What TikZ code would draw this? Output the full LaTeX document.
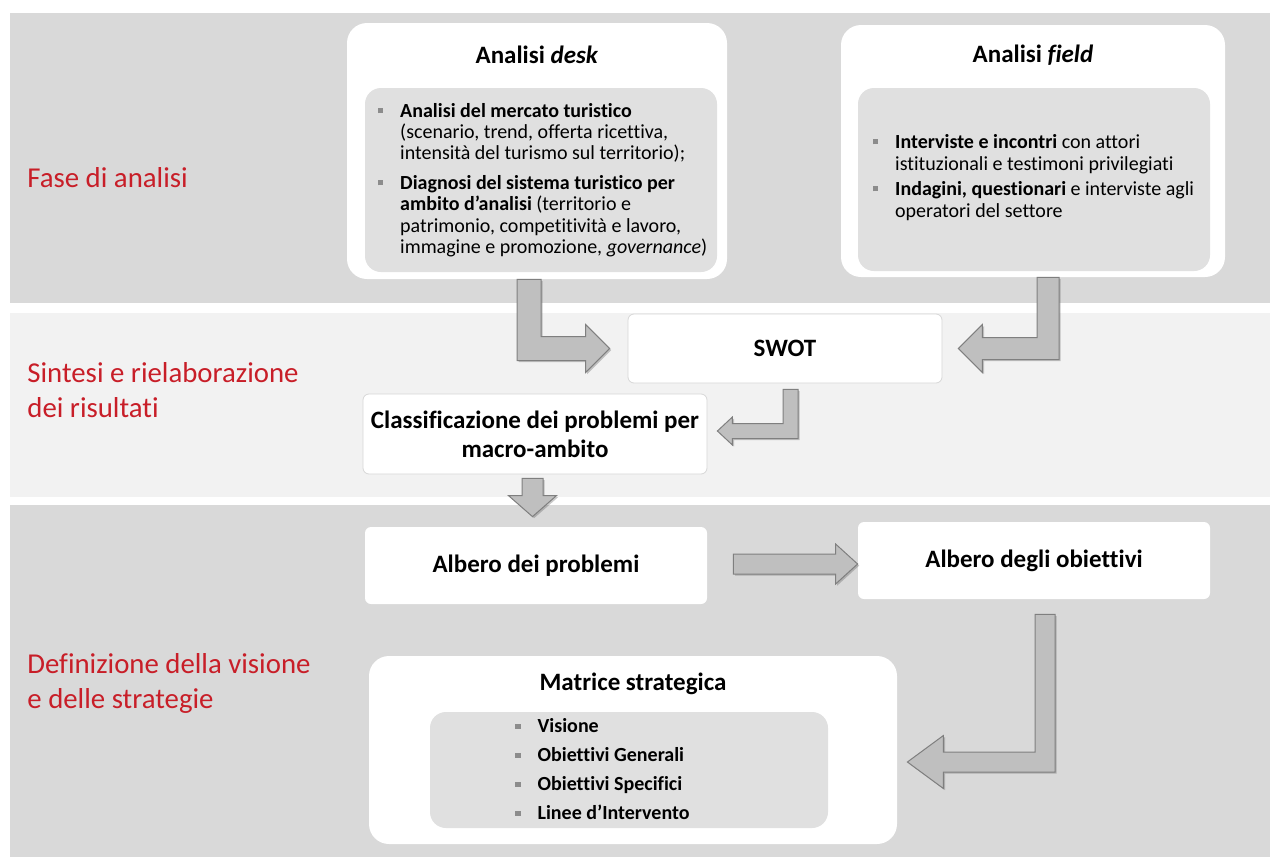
\documentclass[tikz,border=0pt]{standalone}
\usepackage{fontspec}
\setmainfont{Carlito}[Ligatures=NoCommon]
\usepackage{xcolor}
\usepackage{tikz}
\usetikzlibrary{positioning,calc,shadows}
\definecolor{banddark}{RGB}{217,217,217}
\definecolor{bandlight}{RGB}{242,242,242}
\definecolor{boxgray}{RGB}{224,224,224}
\definecolor{arrowfill}{RGB}{191,191,191}
\definecolor{arrowline}{RGB}{127,127,127}
\definecolor{phasered}{RGB}{200,30,40}
\definecolor{bulgray}{RGB}{140,140,140}
\definecolor{edgegray}{RGB}{215,215,215}
\newcommand{\bul}{\textcolor{bulgray}{\rule[2pt]{2.6pt}{2.6pt}}}
\newcommand{\fs}[2]{\fontsize{#1}{#2}\selectfont}
\tikzset{
  phase/.style={anchor=west,align=left,text=phasered,font=\fs{14.4}{17.5},inner sep=0pt},
  panel/.style={fill=white,rounded corners=10pt,inner sep=0pt},
  listbox/.style={fill=boxgray,rounded corners=8pt,inner sep=0pt},
  stepbox/.style={fill=white,draw=edgegray,line width=0.4pt,rounded corners=3pt,align=center,font=\bfseries\fs{12.5}{14.5},inner sep=0pt},
  plainstep/.style={stepbox,draw=none},
  title/.style={font=\bfseries\fs{12.5}{14.5},inner sep=0pt},
  items/.style={inner sep=0pt,anchor=west},
  blockarrow/.style={fill=arrowfill,draw=arrowline,line width=0.5pt,line join=miter,
    drop shadow={shadow xshift=0.8pt,shadow yshift=-0.8pt,opacity=0.3,fill=black!70}},
}
% bent block arrow: start, tip, direction (1 right, -1 left), half shaft, half head, head length
\newcommand{\elbowarrow}[6]{%
  \draw[blockarrow] let \p1=(#1), \p2=(#2) in
    ({\x1-(#3)*#4},\y1) -- ({\x1-(#3)*#4},\y2-#4) -- ({\x2-(#3)*#6},\y2-#4)
    -- ({\x2-(#3)*#6},\y2-#5) -- (\x2,\y2) -- ({\x2-(#3)*#6},\y2+#5)
    -- ({\x2-(#3)*#6},\y2+#4) -- ({\x1+(#3)*#4},\y2+#4) -- ({\x1+(#3)*#4},\y1) -- cycle;}

\begin{document}
\begin{tikzpicture}[x=0.5pt,y=-0.5pt]
  \useasboundingbox (0,0) rectangle (1270,857);
  % three phase bands
  \fill[banddark] (10,13) rectangle (1270,303);
  \fill[bandlight] (10,313) rectangle (1270,497);
  \fill[banddark] (10,505) rectangle (1270,857);

  \node[phase] (phAnalisi) at (27,178) {Fase di analisi};
  \node[phase] (phSintesi) at (27,390) {Sintesi e rielaborazione\\dei risultati};
  \node[phase] (phVisione) at (27,683) {Definizione della visione\\e delle strategie};

  % desk / field analysis
  \node[panel,minimum width=190pt,minimum height=128pt] (desk) at (537,151) {};
  \node[title] (deskTitle) at (537,55) {Analisi \textit{desk}};
  \node[listbox,minimum width=176pt,minimum height=92pt] (deskBox) at (541,180) {};
  \node[items,font=\fs{10}{10.7}] (deskList) at ([xshift=6.5pt,yshift=-0.5pt]deskBox.west) {%
    \begin{tabular}{@{}l@{\hspace{8.5pt}}l@{}}
      \bul & \textbf{Analisi del mercato turistico}\\
           & (scenario, trend, offerta ricettiva,\\
           & intensità del turismo sul territorio);\\[4pt]
      \bul & \textbf{Diagnosi del sistema turistico per}\\
           & \textbf{ambito d’analisi} (territorio e\\
           & patrimonio, competitività e lavoro,\\
           & immagine e promozione, \textit{governance})
    \end{tabular}};

  \node[panel,minimum width=192pt,minimum height=126pt] (field) at (1033,151) {};
  \node[title] (fieldTitle) at (1033,55) {Analisi \textit{field}};
  \node[listbox,minimum width=176pt,minimum height=91.5pt] (fieldBox) at (1034,179.5) {};
  \node[items,font=\fs{10}{11}] (fieldList) at ([xshift=7.5pt,yshift=0.5pt]fieldBox.west) {%
    \begin{tabular}{@{}l@{\hspace{8.5pt}}l@{}}
      \bul & \textbf{Interviste e incontri} con attori\\
           & istituzionali e testimoni privilegiati\\[1.5pt]
      \bul & \textbf{Indagini, questionari} e interviste agli\\
           & operatori del settore
    \end{tabular}};

  % synthesis
  \node[stepbox,minimum width=157pt,minimum height=34.5pt] (swot) at (785,348.5) {SWOT};
  \node[stepbox,minimum width=172pt,minimum height=40pt] (cls) at (535,434)
    {Classificazione dei problemi per\\macro-ambito};

  % vision and strategies
  \node[plainstep,minimum width=171pt,minimum height=38.5pt] (prob) at (536,565.5) {Albero dei problemi};
  \node[plainstep,minimum width=176pt,minimum height=38.5pt] (obj) at (1034,560.5) {Albero degli obiettivi};
  \node[panel,minimum width=264pt,minimum height=94pt] (mat) at (633,750) {};
  \node[title] (matTitle) at (633,684) {Matrice strategica};
  \node[listbox,minimum width=199pt,minimum height=58pt] (matBox) at (629,770) {};
  \node[items,font=\bfseries\fs{10}{14.5}] (matList) at (515,770.5) {%
    \begin{tabular}{@{}l@{\hspace{8.5pt}}l@{}}
      \bul & Visione\\
      \bul & Obiettivi Generali\\
      \bul & Obiettivi Specifici\\
      \bul & Linee d’Intervento
    \end{tabular}};

  % block arrows
  \elbowarrow{[xshift=-4pt]desk.south}{[xshift=-9pt]swot.west}{1}{6pt}{12pt}{12pt}
  \elbowarrow{[xshift=7.5pt]field.south}{[xshift=8pt]swot.east}{-1}{5.5pt}{12pt}{12pt}
  \elbowarrow{[xshift=2.75pt,yshift=-3pt]swot.south}{[xshift=5pt,yshift=1.5pt]cls.east}{-1}{3.75pt}{7pt}{7.5pt}
  \draw[blockarrow] let \p1=([xshift=-1.25pt,yshift=-2pt]cls.south), \p2=([yshift=5pt]prob.north) in
    (\x1-5.25pt,\y1) -- (\x1-5.25pt,\y2+10.5pt) -- (\x1-12pt,\y2+10.5pt) -- (\x1,\y2)
    -- (\x1+12pt,\y2+10.5pt) -- (\x1+5.25pt,\y2+10.5pt) -- (\x1+5.25pt,\y1) -- cycle;
  \draw[blockarrow] let \p1=([xshift=13pt,yshift=0.75pt]prob.east), \p2=(obj.west) in
    (\x1,\y1-5pt) -- (\x2-11pt,\y1-5pt) -- (\x2-11pt,\y1-10pt) -- (\x2,\y1)
    -- (\x2-11pt,\y1+10pt) -- (\x2-11pt,\y1+5pt) -- (\x1,\y1+5pt) -- cycle;
  \elbowarrow{[xshift=5.5pt,yshift=-7.5pt]obj.south}{[xshift=5pt,yshift=-6pt]mat.east}{-1}{5pt}{13.25pt}{18pt}
\end{tikzpicture}
\end{document}
